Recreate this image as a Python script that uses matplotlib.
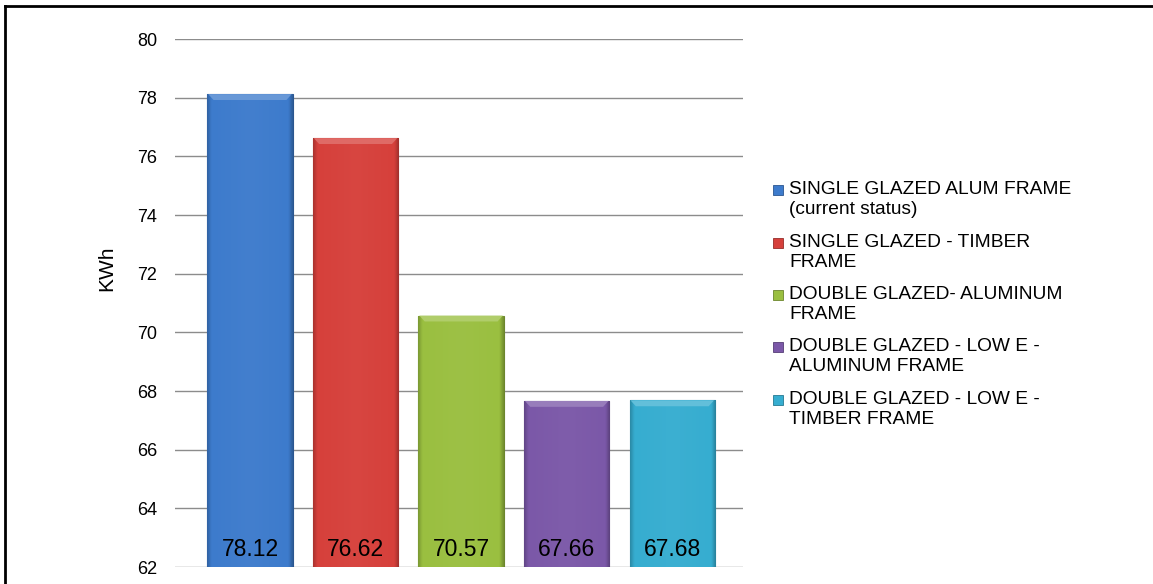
import matplotlib
matplotlib.use("Agg")
import matplotlib.pyplot as plt
import numpy as np
from matplotlib.colors import LinearSegmentedColormap, to_rgb
from matplotlib.patches import Rectangle, Polygon
from matplotlib.lines import Line2D

plt.rcParams['font.family'] = ['Liberation Sans', 'DejaVu Sans']

# opciones de ventana y consumo anual
etiquetas = [
    "SINGLE GLAZED ALUM FRAME\n(current status)",
    "SINGLE GLAZED - TIMBER\nFRAME",
    "DOUBLE GLAZED- ALUMINUM\nFRAME",
    "DOUBLE GLAZED - LOW E -\nALUMINUM FRAME",
    "DOUBLE GLAZED - LOW E -\nTIMBER FRAME",
]
consumo = [78.12, 76.62, 70.57, 67.66, 67.68]
colores = ["#3d7bcc", "#d6403b", "#9abf40", "#7b58a8", "#36add0"]
ticks_y = [62, 64, 66, 68, 70, 72, 74, 76, 78, 80]


def mezclar(c, k):
    """Aclara (k>0) u oscurece (k<0) un color."""
    r = np.array(to_rgb(c))
    if k >= 0:
        return tuple(r + (1 - r) * k)
    return tuple(r * (1 + k))


fig = plt.figure(figsize=(11.53, 5.84), dpi=100)
ax = fig.add_axes([175 / 1153, (584 - 567) / 584, (743 - 175) / 1153, (567 - 39) / 584])

x = np.arange(len(consumo))
ancho = 0.81
barras = ax.bar(x, [v - 62 for v in consumo], bottom=62, width=ancho,
                color=colores, edgecolor=[mezclar(c, -0.3) for c in colores],
                linewidth=0.8, zorder=3)

# relieve: bordes laterales algo más oscuros y brillo biselado arriba
for b, c in zip(barras, colores):
    cmap = LinearSegmentedColormap.from_list(
        "g", [(0.0, mezclar(c, -0.2)), (0.05, mezclar(c, 0.0)),
              (0.5, mezclar(c, 0.03)), (0.95, mezclar(c, 0.0)),
              (1.0, mezclar(c, -0.25))])
    grad = np.linspace(0, 1, 200).reshape(1, -1)
    x0, y0 = b.get_x(), b.get_y()
    w, h = b.get_width(), b.get_height()
    im = ax.imshow(grad, cmap=cmap, aspect="auto", zorder=3.5,
                   extent=(x0, x0 + w, y0, y0 + h))
    im.set_clip_path(b)
    top = y0 + h
    ax.add_patch(Polygon([(x0 + 0.01, top), (x0 + w - 0.01, top),
                          (x0 + w - 0.06, top - 0.2), (x0 + 0.06, top - 0.2)],
                         closed=True, facecolor=mezclar(c, 0.22),
                         edgecolor="none", zorder=3.6))

for xi, v in zip(x, consumo):
    ax.annotate(f"{v:.2f}", (xi, 62), xytext=(0, 8), textcoords="offset points",
                ha="center", va="baseline", fontsize=16.5, color="black", zorder=5)

ax.set_xlim(-0.71, 4.67)
ax.set_ylim(62, 80)
ax.set_yticks(ticks_y)
ax.tick_params(axis="y", length=0, pad=13, labelsize=13)
ax.set_xticks([])
ax.grid(axis="y", color="#8c8c8c", linewidth=1.0, zorder=0)
for s in ax.spines.values():
    s.set_visible(False)
ax.set_ylabel("KWh", fontsize=15)
ax.yaxis.set_label_coords(-0.104, 0.565)

# leyenda con el cuadro alineado a la primera línea
y_leyenda = [190, 243, 295, 347, 400]
for lab, c, yp in zip(etiquetas, colores, y_leyenda):
    fy = 1 - yp / 584
    fig.patches.append(Rectangle((773 / 1153, fy - 5 / 584), 10 / 1153, 10 / 584,
                                 transform=fig.transFigure, facecolor=c,
                                 edgecolor=mezclar(c, -0.3), linewidth=0.6))
    fig.text(789 / 1153, fy + 9 / 584, lab, ha="left", va="top", fontsize=13.8,
             linespacing=1.25)

# marco exterior (solo arriba e izquierda)
fig.add_artist(Line2D([5 / 1153, 1], [1 - 6 / 584, 1 - 6 / 584],
                      transform=fig.transFigure, color="black", linewidth=2))
fig.add_artist(Line2D([5 / 1153, 5 / 1153], [0, 1 - 6 / 584],
                      transform=fig.transFigure, color="black", linewidth=2))

fig.savefig("out.png", dpi=100)
